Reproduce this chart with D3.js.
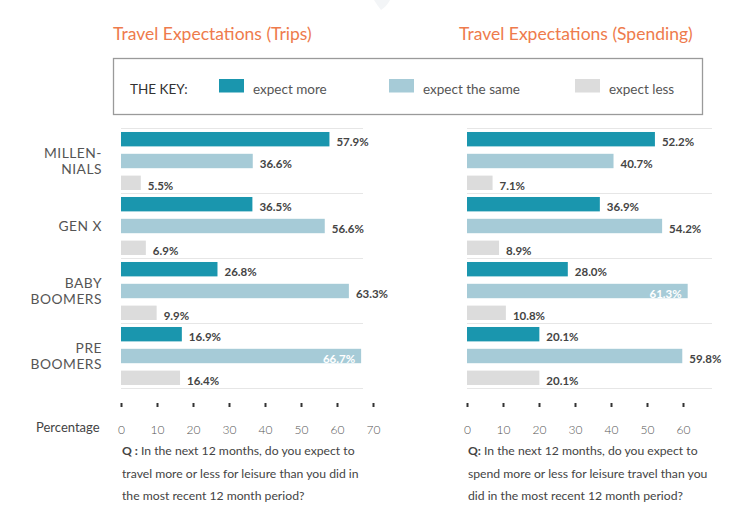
<!DOCTYPE html>
<html>
<head>
<meta charset="utf-8">
<script src="https://cdn.jsdelivr.net/npm/d3@7"></script>
<style>
  html, body { margin: 0; padding: 0; background: #fff; }
  svg { display: block; font-family: "Lato", "Open Sans", sans-serif; }
</style>
</head>
<body>
<svg id="chart" width="750" height="530"></svg>
<script>
// ---- data ----
const categories = [["MILLEN-", "NIALS"], ["GEN X"], ["BABY", "BOOMERS"], ["PRE", "BOOMERS"]];
const seriesNames = ["expect more", "expect the same", "expect less"];
const tripsMore = [57.9, 36.5, 26.8, 16.9];
const tripsSame = [36.6, 56.6, 63.3, 66.7];
const tripsLess = [5.5, 6.9, 9.9, 16.4];
const spendMore = [52.2, 36.9, 28.0, 20.1];
const spendSame = [40.7, 54.2, 61.3, 59.8];
const spendLess = [7.1, 8.9, 10.8, 20.1];
const tripsTicks = [0, 10, 20, 30, 40, 50, 60, 70];
const spendTicks = [0, 10, 20, 30, 40, 50, 60];
const titles = ["Travel Expectations (Trips)", "Travel Expectations (Spending)"];
const questionsTrips = ["In the next 12 months, do you expect to", "travel more or less for leisure than you did in", "the most recent 12 month period?"];
const questionsSpend = ["In the next 12 months, do you expect to", "spend more or less for leisure travel than you", "did in the most recent 12 month period?"];

const colors = ["#1a96ae", "#a6cbd7", "#dcdcdc"];
const svg = d3.select("#chart");

// faint watermark shape at the top
svg.append("path").attr("d", "M374,0 L390,0 Q387,6 381,10 Q377,5 374,0 Z").attr("fill", "#f3f5f7");

// titles
const titleX = [113, 459];
titles.forEach((t, i) => {
  svg.append("text").attr("x", titleX[i]).attr("y", 34).attr("dy", "0.35em")
    .attr("fill", "#ee7b4c").attr("font-size", 17.5).text(t);
});

// legend box
svg.append("rect").attr("x", 113.5).attr("y", 58.5).attr("width", 589).attr("height", 56)
  .attr("fill", "none").attr("stroke", "#9a9a9a").attr("stroke-width", 1.3);
svg.append("text").attr("x", 130).attr("y", 89).attr("dy", "0.35em").attr("font-size", 13.5)
  .attr("fill", "#333").text("THE KEY:");
const legendX = d3.scaleOrdinal().domain(seriesNames).range([219, 389, 575]);
seriesNames.forEach((s, i) => {
  svg.append("rect").attr("x", legendX(s)).attr("y", 79).attr("width", 25).attr("height", 13.5).attr("fill", colors[i]);
  svg.append("text").attr("x", legendX(s) + 34).attr("y", 89).attr("dy", "0.35em")
    .attr("font-size", 13.5).attr("fill", "#555").text(s);
});

// group/band scales
const yGroup = d3.scaleBand().domain(d3.range(categories.length)).range([128.5, 388.5]);
const ySeries = d3.scaleBand().domain(d3.range(3)).range([0, yGroup.bandwidth()])
  .paddingInner(0.34).paddingOuter(0.16);

// category labels
categories.forEach((lines, gi) => {
  const cy = yGroup(gi) + yGroup.bandwidth() / 2;
  lines.forEach((ln, li) => {
    svg.append("text").attr("x", 102).attr("y", cy + (li - (lines.length - 1) / 2) * 16.5)
      .attr("dy", "0.35em").attr("text-anchor", "end").attr("font-size", 13.8)
      .attr("font-weight", 400).attr("letter-spacing", 0.5).attr("fill", "#555").text(ln);
  });
});

function panel(x0, domainMax, gridEnd, more, same, less, ticks, qLines, qLabel) {
  const x = d3.scaleLinear().domain([0, domainMax]).range([x0, x0 + 3.6 * domainMax]);
  const g = svg.append("g");
  // grid separators
  const seps = yGroup.domain().map(d => yGroup(d)).concat([yGroup.range()[1]]);
  g.selectAll("line.sep").data(seps).join("line")
    .attr("x1", x0).attr("x2", gridEnd).attr("y1", d => d).attr("y2", d => d)
    .attr("stroke", "#e6e6e6").attr("stroke-width", 1);

  const seriesVals = [more, same, less];
  const maxVal = d3.max(seriesVals.flat());
  const rows = [];
  seriesVals.forEach((vals, si) => vals.forEach((v, gi) => rows.push({ si, gi, v })));

  g.selectAll("rect.bar").data(rows).join("rect")
    .attr("x", x(0)).attr("y", d => yGroup(d.gi) + ySeries(d.si))
    .attr("width", d => x(d.v) - x(0)).attr("height", ySeries.bandwidth())
    .attr("fill", d => colors[d.si]);

  g.selectAll("text.val").data(rows).join("text")
    .attr("x", d => d.v === maxVal ? x(d.v) - 6 : x(d.v) + 7)
    .attr("y", d => yGroup(d.gi) + ySeries(d.si) + ySeries.bandwidth() / 2 + 3)
    .attr("dy", "0.35em")
    .attr("text-anchor", d => d.v === maxVal ? "end" : "start")
    .attr("font-size", 11.5).attr("font-weight", 700)
    .attr("fill", d => d.v === maxVal ? "#fff" : "#444")
    .text(d => d3.format(".1f")(d.v) + "%");

  // axis
  const axis = d3.axisBottom(x).tickValues(ticks).tickSize(4).tickPadding(18).tickFormat(d3.format("d"));
  const ag = svg.append("g").attr("transform", "translate(0,403)").call(axis);
  ag.select(".domain").remove();
  ag.selectAll(".tick line").attr("stroke", "#333").attr("stroke-width", 2);
  ag.selectAll(".tick text").attr("font-size", 12).attr("font-family", "Lato, sans-serif")
    .attr("font-weight", 300).attr("fill", "#555");

  // question
  qLines.forEach((ln, i) => {
    const t = svg.append("text").attr("x", x0 + 1).attr("y", 451 + i * 22.3).attr("dy", "0.35em")
      .attr("font-size", 12.2).attr("fill", "#444");
    if (i === 0) {
      t.append("tspan").attr("font-weight", 700).text(qLabel);
    }
    t.append("tspan").text(ln);
  });
}

panel(121, 70, 363, tripsMore, tripsSame, tripsLess, tripsTicks, questionsTrips, "Q : ");
panel(467, 60, 712, spendMore, spendSame, spendLess, spendTicks, questionsSpend, "Q: ");

svg.append("text").attr("x", 36).attr("y", 427).attr("dy", "0.35em").attr("font-size", 13)
  .attr("fill", "#444").text("Percentage");
</script>
</body>
</html>
